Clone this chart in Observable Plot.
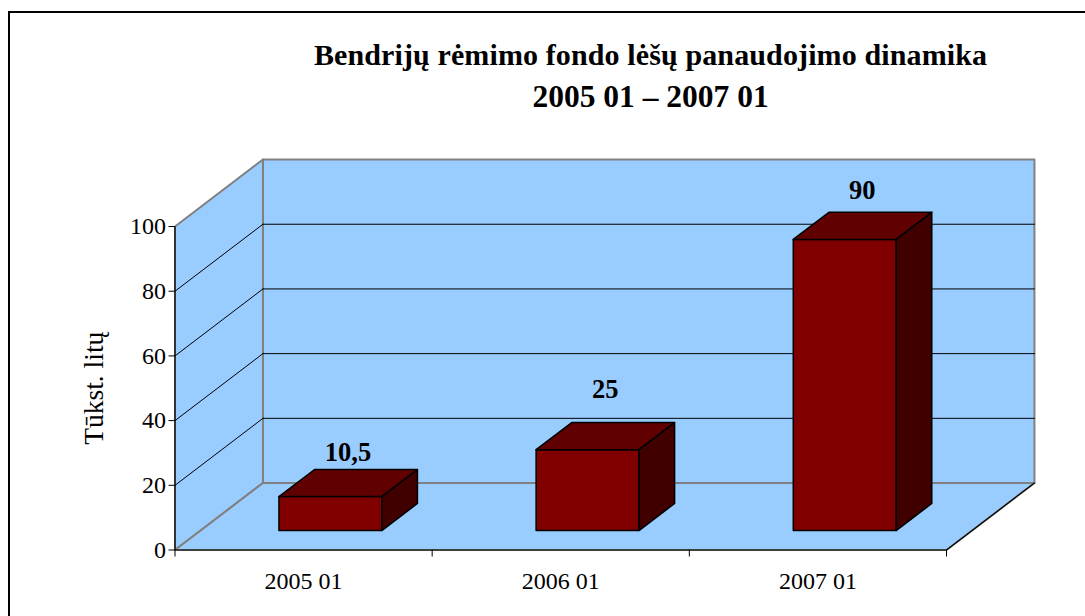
<!DOCTYPE html>
<html><head><meta charset="utf-8">
<script src="https://cdn.jsdelivr.net/npm/d3@7"></script>
<script src="https://cdn.jsdelivr.net/npm/@observablehq/plot@0.6"></script>
<style>
html,body{margin:0;padding:0;background:#fff;overflow:hidden}
#page{position:relative;width:1085px;height:616px;overflow:hidden;font-family:"Liberation Serif",serif}
#border{position:absolute;left:8px;top:11px;width:1200px;height:700px;border:2px solid #000;box-sizing:border-box}
#title{position:absolute;left:216px;top:34px;width:869px;text-align:center;font-weight:bold;line-height:42px;color:#000}
#title div{white-space:nowrap}
#t1{font-size:30px;letter-spacing:0.12px}
#t2{font-size:31.5px}
#plot{position:absolute;left:0;top:140px}
svg{display:block}
</style></head><body>
<div id="page">
<div id="border"></div>
<div id="title"><div id="t1">Bendrijų rėmimo fondo lėšų panaudojimo dinamika</div><div id="t2">2005 01 – 2007 01</div></div>
<div id="plot"></div>
</div>
<script>
const categories = ["2005 01", "2006 01", "2007 01"];
const values = [10.5, 25, 90];
const valueLabels = ["10,5", "25", "90"];
const labelLift = [9.6, 14.4, 11];
const yTicks = [0, 20, 40, 60, 80, 100];

const depthX = 0.342, depthY = 20.7;
const barWidth = 0.4, barShift = 0.005, barDepthStart = 0.29, barDepthEnd = 0.695, labelDepth = 0.49;
const project = (u, v, d) => ({x: u + d * depthX, y: v + d * depthY});
const face = (name, pts) => pts.map(([u, v, d]) => ({...project(u, v, d), face: name}));

const backWall = face("back", [[0,0,1],[3,0,1],[3,100,1],[0,100,1]]);
const sideWall = face("side", [[0,0,0],[0,0,1],[0,100,1],[0,100,0]]);
const floor = face("floor", [[0,0,0],[3,0,0],[3,0,1],[0,0,1]]);

const gridBack = yTicks.slice(1, -1).flatMap(t => face("b" + t, [[0,t,1],[3,t,1]]));
const gridSide = yTicks.slice(1, -1).flatMap(t => face("s" + t, [[0,t,0],[0,t,1]]));

const bars = values.map((v, i) => {
  const l = i + 0.5 + barShift - barWidth / 2, r = i + 0.5 + barShift + barWidth / 2;
  const a = barDepthStart, b = barDepthEnd;
  return {
    front: face("f" + i, [[l,0,a],[r,0,a],[r,v,a],[l,v,a]]),
    top: face("t" + i, [[l,v,a],[r,v,a],[r,v,b],[l,v,b]]),
    side: face("r" + i, [[r,0,a],[r,0,b],[r,v,b],[r,v,a]])
  };
});
const labelRows = values.map((v, i) => ({
  ...project(i + 0.5 + barShift, v + labelLift[i], labelDepth), text: valueLabels[i]
}));

const poly = (rows, fill, stroke, strokeWidth) =>
  Plot.line(rows, {x: "x", y: "y", z: "face", fill, stroke, strokeWidth, curve: "linear-closed"});

const chart = Plot.plot({
  width: 1085, height: 476,
  marginLeft: 174.5, marginRight: 139, marginTop: 86, marginBottom: 66.5,
  x: {domain: [0, 3]},
  y: {domain: [0, 100]},
  style: {fontFamily: '"Liberation Serif", serif', background: "transparent", color: "#000", overflow: "visible"},
  marks: [
    poly(backWall, "#99CCFF", "#808080", 2),
    poly(sideWall, "#99CCFF", "#808080", 2),
    poly(floor, "#99CCFF", "#808080", 2),
    Plot.line(gridBack, {x: "x", y: "y", z: "face", stroke: "#000", strokeWidth: 1}),
    Plot.line(gridSide, {x: "x", y: "y", z: "face", stroke: "#000", strokeWidth: 1}),
    Plot.line(face("edge", [[3,0,1],[3,0,0],[0,0,0],[0,100,0]]), {x: "x", y: "y", stroke: "#000", strokeWidth: 1.2}),
    ...bars.flatMap(b => [
      poly(b.front, "#800000", "#000", 1.5),
      poly(b.top, "#600000", "#000", 1.5),
      poly(b.side, "#400000", "#000", 1.5)
    ]),
    Plot.text(labelRows, {x: "x", y: "y", text: "text", fontSize: 26.5, fontWeight: "bold", fill: "#000"}),
    Plot.axisY({ticks: yTicks, tickSize: 6, tickPadding: 3, fontSize: 24, label: null, tickFormat: d => String(d)}),
    Plot.axisY({ticks: [], fontSize: 27.5, label: "Tūkst. litų", labelAnchor: "center", labelArrow: "none", labelOffset: 92}),
    Plot.axisX({ticks: [0, 1, 2, 3], tickSize: 7, tickFormat: () => "", label: null}),
    Plot.axisX({ticks: categories.map((_, i) => i + 0.5), tickSize: 0, tickPadding: 22, fontSize: 24, tickFormat: d => categories[d - 0.5], label: null})
  ]
});
document.getElementById("plot").appendChild(chart);
</script>
</body></html>
